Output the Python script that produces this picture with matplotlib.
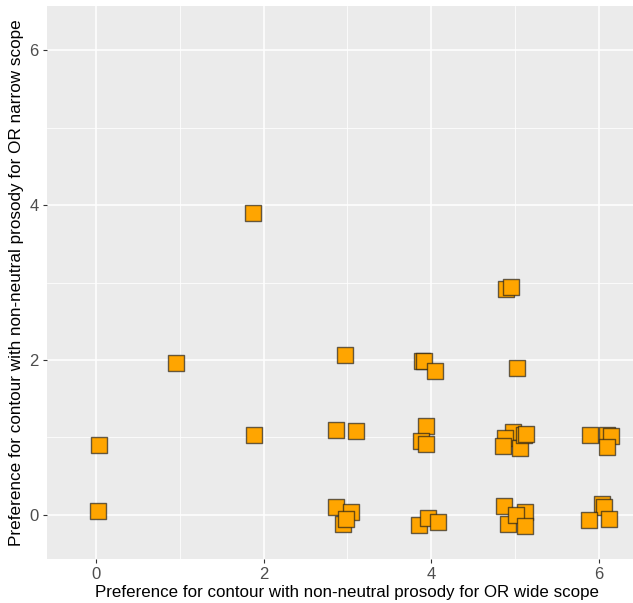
import matplotlib.pyplot as plt

plt.rcParams['font.family'] = ['Liberation Sans', 'DejaVu Sans']

# jittered preference scores (wide scope vs narrow scope)
wide = [0.04, 0.02, 0.96, 1.88, 1.89, 2.97,
        3.89, 3.91, 4.05, 5.03,
        2.86, 3.11,
        3.94, 3.88, 3.94,
        4.98, 4.88, 4.86, 5.06, 5.11, 5.13,
        2.86, 3.05, 2.95, 2.98,
        3.86, 3.96, 4.08,
        4.87, 5.12, 4.92, 5.02, 5.12,
        5.90, 6.10, 6.15, 6.10,
        6.04, 6.07, 5.89, 6.13,
        4.89, 4.96]
narrow = [0.90, 0.05, 1.96, 3.90, 1.03, 2.06,
          1.98, 1.99, 1.86, 1.90,
          1.10, 1.08,
          1.15, 0.95, 0.91,
          1.07, 0.99, 0.89, 0.86, 1.03, 1.05,
          0.10, 0.04, -0.12, -0.06,
          -0.13, -0.04, -0.09,
          0.12, 0.04, -0.12, 0.00, -0.14,
          1.03, 1.03, 1.02, 0.88,
          0.14, 0.10, -0.07, -0.06,
          2.91, 2.94]

fig = plt.figure(figsize=(6.33, 6.03), dpi=100)
# panel runs a little past the right edge (image was cropped)
ax = fig.add_axes([0.0742, 0.073, 0.9495, 0.917])
ax.set_facecolor('#EBEBEB')

ax.set_xlim(-0.585, 6.59)
ax.set_ylim(-0.57, 6.57)

# ggplot-like grid
ax.set_xticks([0, 2, 4, 6])
ax.set_yticks([0, 2, 4, 6])
ax.set_xticks([1, 3, 5], minor=True)
ax.set_yticks([1, 3, 5], minor=True)
ax.grid(which='major', color='white', linewidth=1.1)
ax.grid(which='minor', color='white', linewidth=0.55)
ax.set_axisbelow(True)
for s in ax.spines.values():
    s.set_visible(False)
ax.tick_params(which='major', length=3, width=0.8, color='#333333',
               labelsize=12, labelcolor='#4D4D4D', pad=3)
ax.tick_params(which='minor', length=0)

ax.scatter(wide, narrow, marker='s', s=130, facecolor='#FFA500',
           edgecolor=(0.1, 0.1, 0.1, 0.65), linewidth=1.0, zorder=3)

ax.set_xlabel('Preference for contour with non-neutral prosody for OR wide scope',
              fontsize=12.2, color='black', labelpad=2)
ax.set_ylabel('Preference for contour with non-neutral prosody for OR narrow scope',
              fontsize=12.3, color='black', labelpad=4)

fig.savefig('out.png', dpi=100)
